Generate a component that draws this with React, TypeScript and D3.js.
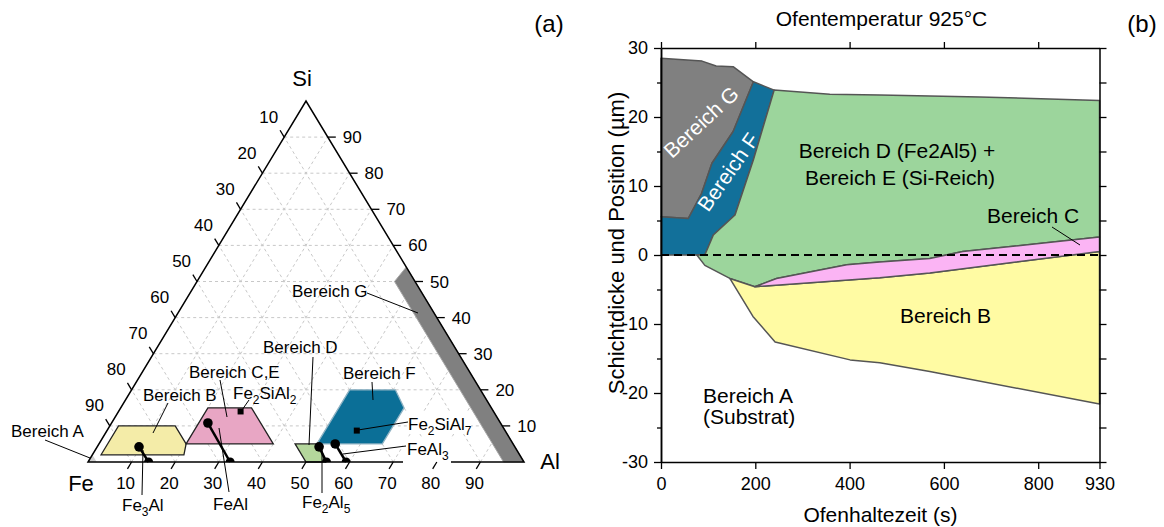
import { useEffect, useRef } from 'react';
import * as d3 from 'd3';

// ---------- (a) ternary Fe-Al-Si, values as [Al wt%, Si wt%] ----------
const gridSteps = [10, 20, 30, 40, 50, 60, 70, 80, 90];
const regionA = [[0, 0], [2, 0], [0, 2]];
const regionB = [[2, 10], [15, 10], [20, 5], [21, 2], [2, 2]];
const regionCE = [[20, 15], [30, 15], [40, 5], [20, 5]];
const regionD = [[45, 5], [50.5, 5], [54.5, 0], [50, 0]];
const regionF = [[50, 20], [60.5, 20], [65, 15], [65, 5], [50, 5]];
const regionG = [[46, 54], [45.3, 50], [95.3, 0], [100, 0]];

// binary phases: stoichiometric Al (on the Fe-Al edge) and measured points
const phaseNames = ['Fe3Al', 'FeAl', 'Fe2Al5', 'FeAl3'];
const phaseAl = [13.9, 32.6, 54.7, 59.2];
const measuredAl = [9.6, 22.1, 50.9, 54.2];
const measuredSi = [4.2, 10.8, 4.2, 5.0];
// ternary compounds Fe2SiAl2, Fe2SiAl7
const compoundAl = [28.0, 57.3];
const compoundSi = [14.0, 8.7];

// ---------- (b) Ofenhaltezeit (s) vs Position (µm) ----------
const timeTicks = [0, 200, 400, 600, 800, 930];
const posTicks = [-30, -20, -10, 0, 10, 20, 30];
const posMinor = [-25, -15, -5, 5, 15, 25];

const gTop = [[0, 28.5], [87, 28.1], [117, 27.4], [153, 27.3], [196, 25.1]];
const gfBoundary = [[0, 5.55], [58, 5.3], [86, 8.9], [108, 13.3], [153, 17.9], [196, 25.1]];
const fRight = [[240, 23.9], [196, 13.8], [157, 5.8], [111, 2.9], [93, 0]];
const dTop = [[240, 23.9], [358, 23.3], [464, 23.2], [676, 22.9], [930, 22.4]];
const dLowerLeft = [[199, -4.6], [146, -3.4], [93, -1.5], [76, 0], [93, 0]];
const cTop = [[199, -4.6], [245, -3.4], [394, -1.4], [464, -1.0], [570, -0.5], [640, 0.5], [930, 2.6]];
const cBottom = [[199, -4.6], [464, -3.3], [570, -2.6], [930, 0.5]];
const bBottom = [[146, -3.4], [195, -8.9], [242, -12.6], [401, -15.2], [464, -15.6], [570, -16.9], [930, -21.6]];

const FONT = 'Liberation Sans, Arial, sans-serif';

// ternary geometry
const alX = d3.scaleLinear().domain([0, 100]).range([0, 436]);
const siX = d3.scaleLinear().domain([0, 100]).range([0, 218]);
const siY = d3.scaleLinear().domain([0, 100]).range([462, 101]);
const FE_X = 88;
const tern = (al: number, si: number): [number, number] => [FE_X + alX(al) + siX(si), siY(si)];
const ternPath = (pts: number[][]) => 'M' + pts.map((p) => tern(p[0], p[1]).join(',')).join('L') + 'Z';

// chart b scales
const x = d3.scaleLinear().domain([0, 930]).range([661, 1099.5]);
const y = d3.scaleLinear().domain([-30, 30]).range([462, 48]);
const area = d3
  .line<number[]>()
  .x((d) => x(d[0]))
  .y((d) => y(d[1]));
const closed = (pts: number[][]) => area(pts) + 'Z';
const rev = (a: number[][]) => a.slice().reverse();

const polyG = [...gTop, ...rev(gfBoundary).slice(1)];
const polyF = [...gfBoundary, ...fRight, [0, 0]];
const polyD = [...dTop, ...rev(cTop), ...dLowerLeft.slice(1), ...rev(fRight).slice(1)];
const polyC = [...cTop, ...rev(cBottom)];
const polyB = [[146, -3.4], ...cBottom, ...rev(bBottom).slice(0, -1)];

function Sub({ parts }: { parts: [string, boolean][] }) {
  return (
    <>
      {parts.map(([t, sub], i) => (
        <tspan key={i} fontSize={sub ? 12 : undefined} dy={sub ? 5 : i > 0 && parts[i - 1][1] ? -5 : 0}>
          {t}
        </tspan>
      ))}
    </>
  );
}

function Ternary() {
  const up = [-0.517, -0.856]; // direction Al -> Si
  const down = [-0.517, 0.856]; // direction Si -> Fe
  return (
    <g fontFamily={FONT}>
      {/* grid */}
      <g stroke="#c8c8c8" strokeWidth={1} strokeDasharray="3,3" fill="none">
        {gridSteps.map((k) => {
          const a = tern(0, k), b = tern(100 - k, k);
          const c = tern(k, 0), d = tern(k, 100 - k);
          const e = tern(100 - k, 0), f = tern(0, 100 - k);
          return (
            <g key={k}>
              <line x1={a[0]} y1={a[1]} x2={b[0]} y2={b[1]} />
              <line x1={c[0]} y1={c[1]} x2={d[0]} y2={d[1]} />
              <line x1={e[0]} y1={e[1]} x2={f[0]} y2={f[1]} />
            </g>
          );
        })}
      </g>
      {/* white label backgrounds */}
      <rect x={403} y={437} width={48} height={27} fill="white" />
      <rect x={407} y={412} width={64} height={22} fill="white" />

      {/* regions */}
      <path d={ternPath(regionA)} fill="#d0d0d0" />
      <path d={ternPath(regionG)} fill="#808080" stroke="#a8a8a8" strokeWidth={1} />
      <path d={ternPath(regionB)} fill="#f4eca8" stroke="#222" strokeWidth={1.3} />
      <path d={ternPath(regionCE)} fill="#e8a6c4" stroke="#222" strokeWidth={1.3} />
      <path d={ternPath(regionD)} fill="#b4d79c" stroke="#222" strokeWidth={1.3} />
      <path d={ternPath(regionF)} fill="#0b6f97" stroke="#8fb3c4" strokeWidth={1.3} />

      {/* triangle frame */}
      <path d={`M${tern(0, 0).join(',')}L${tern(100, 0).join(',')}L${tern(0, 100).join(',')}Z`} fill="none" stroke="#000" strokeWidth={1.5} />
      <rect x={403} y={455} width={48} height={9} fill="white" />

      {/* ticks + labels */}
      <g stroke="#000" strokeWidth={1.3}>
        {gridSteps.map((k) => {
          const b = tern(k, 0);
          const r = tern(100 - k, k);
          const l = tern(0, 100 - k);
          return (
            <g key={k}>
              <line x1={b[0]} y1={b[1]} x2={b[0] + down[0] * 8} y2={b[1] + down[1] * 8} />
              <line x1={r[0]} y1={r[1]} x2={r[0] + 8} y2={r[1]} />
              <line x1={l[0]} y1={l[1]} x2={l[0] + up[0] * 8} y2={l[1] + up[1] * 8} />
            </g>
          );
        })}
      </g>
      <g fontSize={17} fill="#000">
        {gridSteps.map((k) => {
          const b = tern(k, 0);
          const r = tern(100 - k, k);
          const l = tern(0, 100 - k);
          return (
            <g key={k}>
              <text x={b[0] - 6} y={b[1] + 26.5} textAnchor="middle">{k}</text>
              <text x={r[0] + 15} y={r[1] + 6}>{k}</text>
              <text x={l[0] + up[0] * 24 - 3} y={l[1] + up[1] * 24 + 6} textAnchor="middle">{k}</text>
            </g>
          );
        })}
      </g>
      <g fontSize={22}>
        <text x={302} y={86} textAnchor="middle">Si</text>
        <text x={81} y={491} textAnchor="middle">Fe</text>
        <text x={550} y={469} textAnchor="middle">Al</text>
      </g>
      <text x={549} y={32} fontSize={24} textAnchor="middle">(a)</text>

      {/* phase tie lines */}
      {phaseAl.map((al, i) => {
        const m = tern(measuredAl[i], measuredSi[i]);
        const s = tern(al, 0);
        return (
          <g key={phaseNames[i]}>
            <line x1={m[0]} y1={m[1]} x2={s[0]} y2={s[1]} stroke="#000" strokeWidth={2.5} />
            <circle cx={m[0]} cy={m[1]} r={4.8} fill="#000" />
            <path d={`M${s[0] - 4.5},${s[1]}A4.5,4.5 0 0 1 ${s[0] + 4.5},${s[1]}Z`} fill="#000" />
          </g>
        );
      })}
      {compoundAl.map((al, i) => {
        const p = tern(al, compoundSi[i]);
        return <rect key={i} x={p[0] - 3} y={p[1] - 3} width={6} height={6} fill="#000" />;
      })}

      {/* leader lines */}
      <g stroke="#000" strokeWidth={1}>
        <line x1={45} y1={440} x2={90} y2={458} />
        <line x1={168} y1={403} x2={153} y2={433} />
        <line x1={220} y1={380} x2={227} y2={417} />
        <line x1={249} y1={400} x2={242} y2={410} />
        <line x1={313} y1={357} x2={309} y2={445} />
        <line x1={372} y1={382} x2={373} y2={400} />
        <line x1={367} y1={293} x2={418} y2={313} />
        <line x1={408} y1={422} x2={358} y2={430} />
        <line x1={406} y1={446} x2={343} y2={454} />
        <line x1={142} y1={495} x2={143} y2={450} />
        <line x1={229} y1={492} x2={219} y2={428} />
        <line x1={322} y1={493} x2={322} y2={449} />
      </g>
      <g fontSize={17}>
        <text x={11} y={437}>Bereich A</text>
        <text x={143} y={401}>Bereich B</text>
        <text x={189} y={378}>Bereich C,E</text>
        <text x={233} y={399}>
          <Sub parts={[['Fe', false], ['2', true], ['SiAl', false], ['2', true]]} />
        </text>
        <text x={263} y={353}>Bereich D</text>
        <text x={343} y={379}>Bereich F</text>
        <text x={292} y={297}>Bereich G</text>
        <text x={408} y={430}>
          <Sub parts={[['Fe', false], ['2', true], ['SiAl', false], ['7', true]]} />
        </text>
        <text x={407} y={455}>
          <Sub parts={[['FeAl', false], ['3', true]]} />
        </text>
        <text x={122} y={511}>
          <Sub parts={[['Fe', false], ['3', true], ['Al', false]]} />
        </text>
        <text x={213} y={510}>FeAl</text>
        <text x={302} y={508}>
          <Sub parts={[['Fe', false], ['2', true], ['Al', false], ['5', true]]} />
        </text>
      </g>
    </g>
  );
}

function LayerChart() {
  const axesRef = useRef<SVGGElement>(null);

  useEffect(() => {
    if (!axesRef.current) return;
    const g = d3.select(axesRef.current);
    g.selectAll('*').remove();
    const fmt = (d: d3.NumberValue) => String(d);

    g.append('g')
      .attr('transform', `translate(${x(0)},0)`)
      .call(d3.axisLeft(y).tickValues(posTicks).tickSize(7).tickSizeOuter(0).tickPadding(6).tickFormat(fmt));
    g.append('g')
      .attr('transform', `translate(${x(0)},0)`)
      .call(d3.axisLeft(y).tickValues(posMinor).tickSize(4).tickSizeOuter(0).tickFormat(() => ''));
    g.append('g')
      .attr('transform', `translate(${x(930)},0)`)
      .call(d3.axisRight(y).tickValues([...posTicks, ...posMinor]).tickSize(7).tickSizeOuter(0).tickFormat(() => ''));
    g.append('g')
      .attr('transform', `translate(0,${y(-30)})`)
      .call(d3.axisBottom(x).tickValues(timeTicks).tickSize(7).tickSizeOuter(0).tickPadding(8).tickFormat(fmt));
    g.append('g')
      .attr('transform', `translate(0,${y(30)})`)
      .call(d3.axisTop(x).tickValues(timeTicks.slice(0, 5)).tickSize(6).tickSizeOuter(0).tickFormat(() => ''));

    g.selectAll('.domain').style('stroke', '#000').style('stroke-width', 1.5);
    g.selectAll('.tick line').style('stroke', '#000').style('stroke-width', 1.3);
    g.selectAll('text').style('font-family', FONT).style('font-size', '18px').style('fill', '#000');
  }, []);

  return (
    <g fontFamily={FONT}>
      <g stroke="#555" strokeWidth={1.5} strokeLinejoin="round">
        <path d={closed(polyG)} fill="#808080" />
        <path d={closed(polyF)} fill="#12709a" />
        <path d={closed(polyD)} fill="#9cd59c" />
        <path d={closed(polyB)} fill="#fffba3" />
        <path d={closed(polyC)} fill="#fbb4f4" />
      </g>
      <line x1={x(0)} x2={x(930)} y1={y(0)} y2={y(0)} stroke="#000" strokeWidth={2} strokeDasharray="8,5" />
      <g ref={axesRef} />

      <g fontSize={21} fill="#000">
        <text transform="translate(701,122) rotate(-43)" textAnchor="middle" dominantBaseline="central" fill="#fff">
          Bereich G
        </text>
        <text transform="translate(728,172) rotate(-55)" textAnchor="middle" dominantBaseline="central" fill="#fff">
          Bereich F
        </text>
        <text x={897} y={157.5} textAnchor="middle">Bereich D (Fe2Al5) +</text>
        <text x={900} y={184.5} textAnchor="middle">Bereich E (Si-Reich)</text>
        <text x={987} y={222.5}>Bereich C</text>
        <text x={900} y={322.5}>Bereich B</text>
        <text x={703} y={403}>Bereich A</text>
        <text x={703} y={424}>(Substrat)</text>
        <text x={881.5} y={26} textAnchor="middle">Ofentemperatur 925°C</text>
        <text x={880.5} y={522} textAnchor="middle">Ofenhaltezeit (s)</text>
        <text transform="translate(624,243) rotate(-90)" textAnchor="middle" fontSize={22}>
          Schichtdicke und Position (µm)
        </text>
      </g>
      <line x1={1052} y1={227} x2={1080} y2={245} stroke="#000" strokeWidth={1} />
      <text x={1142} y={32} fontSize={24} textAnchor="middle">(b)</text>
    </g>
  );
}

export default function App() {
  return (
    <div style={{ position: 'absolute', left: 0, top: 0 }}>
      <svg width={1164} height={527} style={{ display: 'block', background: '#fff' }}>
        <Ternary />
        <LayerChart />
      </svg>
    </div>
  );
}
